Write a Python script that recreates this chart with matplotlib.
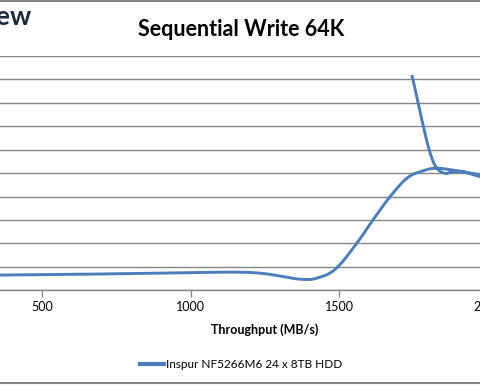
import numpy as np
import matplotlib
matplotlib.use("Agg")
import matplotlib.pyplot as plt
from matplotlib.lines import Line2D

# throughput (MB/s) vs latency (ms), in the order the test ran
throughput = [200, 600, 900, 1200, 1370, 1435, 1491, 1559, 1613, 1671, 1727, 1772,
              1822, 1882, 1975, 2060, 1975, 1916, 1882, 1856, 1828, 1806, 1783, 1761, 1744]
latency = [6.3, 6.8, 7.3, 7.6, 4.7, 5.6, 9.5, 20.1, 30.0, 40.0, 47.8, 50.6,
           52.1, 51.3, 49.2, 46.5, 48.5, 50.6, 50.6, 49.9, 52.1, 58.4, 69.8, 82.6, 91.9]
series_name = "Inspur NF5266M6 24 x 8TB HDD"
x_ticks = [500, 1000, 1500, 2000]

LINE = "#4a7ebb"
GRID = "#868686"


def smooth(xs, ys, n=30):
    # excel style smoothed line: bezier with control points at +-(p[i+1]-p[i-1])/6
    p = np.column_stack([xs, ys]).astype(float)
    p = np.vstack([p[0], p, p[-1]])
    out = []
    t = np.linspace(0, 1, n)[:, None]
    for i in range(1, len(p) - 2):
        p0, p1, p2, p3 = p[i - 1], p[i], p[i + 1], p[i + 2]
        c1 = p1 + (p2 - p0) / 6
        c2 = p2 - (p3 - p1) / 6
        seg = (1 - t)**3 * p1 + 3 * (1 - t)**2 * t * c1 + 3 * (1 - t) * t**2 * c2 + t**3 * p2
        out.append(seg)
    out = np.vstack(out)
    return out[:, 0], out[:, 1]


fig = plt.figure(figsize=(4.8, 3.85), dpi=100)
plt.rcParams['font.family'] = ['Lato', 'DejaVu Sans']

# plot area is wider than the crop: y axis sits off the left edge
ax = fig.add_axes([-0.2219, 0.246, 1.548, 0.6086])
sx, sy = smooth(throughput, latency)
ax.plot(sx, sy, color=LINE, lw=2.1, solid_capstyle='butt')

ax.set_xlim(0, 2500)
ax.set_ylim(0, 100)
ax.set_xticks(x_ticks)
ax.set_xticklabels([str(v) for v in x_ticks])
ax.set_yticks(np.arange(0, 101, 10))
ax.tick_params(axis='y', left=False, labelleft=False)
ax.tick_params(axis='x', direction='out', length=5, width=0.9, color=GRID,
               labelsize=9, pad=3)
ax.yaxis.grid(True, color=GRID, lw=1)
ax.set_axisbelow(True)
for s in ['top', 'right', 'left']:
    ax.spines[s].set_visible(False)
ax.spines['bottom'].set_color(GRID)
ax.spines['bottom'].set_linewidth(1)
ax.set_xlabel("Throughput (MB/s)", fontsize=9, fontweight='bold', labelpad=7)

fig.text(241 / 480, 1 - 30 / 385, "Sequential Write 64K", ha='center', va='center',
         fontsize=15.5, fontweight='bold')
fig.text(32 / 480, 1 - 17 / 385, "StorageReview", ha='right', va='center',
         fontsize=19, fontweight='bold', color='#1c2b3b')

handle = Line2D([], [], color=LINE, lw=3)
fig.legend([handle], [series_name], loc='center', bbox_to_anchor=(241 / 480, 1 - 365 / 385),
           frameon=False, fontsize=8.5, handlelength=2.0, handletextpad=0.2)

# chart border lines
fig.add_artist(Line2D([0, 1], [1 - 1 / 385, 1 - 1 / 385], color=GRID, lw=1.5))
fig.add_artist(Line2D([0, 1], [1 - 383 / 385, 1 - 383 / 385], color=GRID, lw=1.5))

fig.savefig("out.png", dpi=100)
